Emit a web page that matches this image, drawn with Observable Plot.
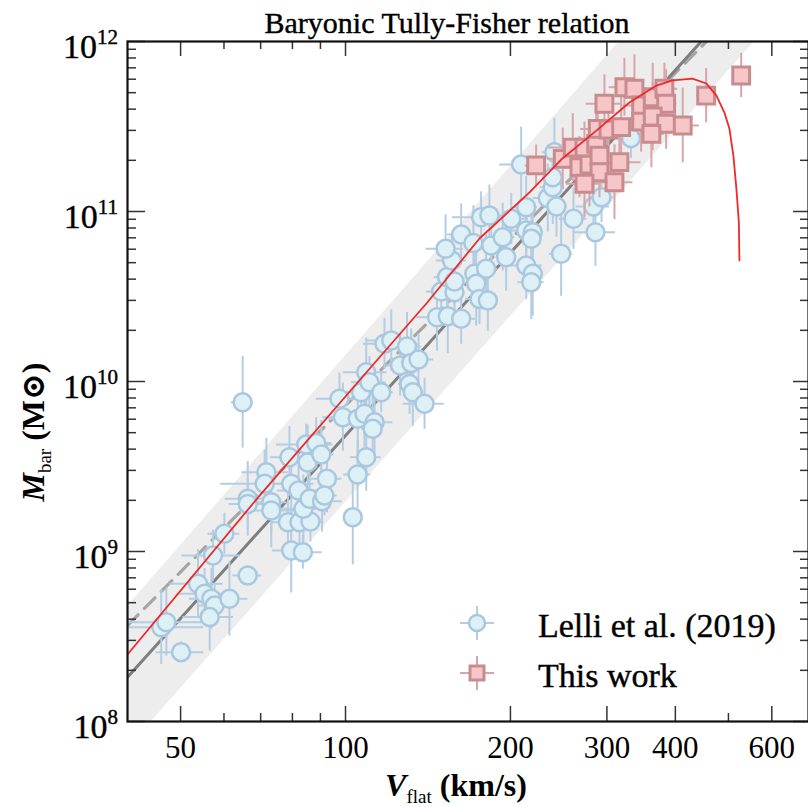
<!DOCTYPE html>
<html><head><meta charset="utf-8">
<script src="https://cdn.jsdelivr.net/npm/d3@7"></script>
<script src="https://cdn.jsdelivr.net/npm/@observablehq/plot@0.6"></script>
<style>body{margin:0;background:#fff;} svg{display:block;} svg text, svg tspan{font-family:"Liberation Serif","DejaVu Serif",serif !important;}</style>
</head><body><div id="chart"></div>
<script>
// ---- Lelli et al. (2019) : V_flat (km/s), log10 M_bar, errors
const lelliV = [46.1,47.1,50.1,53.8,55.3,56.9,57.7,56.5,61.4,66.3,57.3,79.6,83.6,60.1,66.3,66.3,71.7,71.2,73.2,73.2,79.6,78.5,82.4,86.3,83.8,79.0,82.1,85.3,84.8,88.4,90.3,86.0,90.6,92.5,91.5,64.9,97.5,98.9,105.2,103.1,105.3,109.1,106.8,109.1,110.6,116.2,108.3,113.0,112.1,117.8,121.2,129.5,125.8,131.8,135.9,130.9,132.7,139.4,146.9,153.7,162.6,149.5,158.1,153.2,158.1,156.4,152.3,162.6,171.2,171.9,173.2,180.6,175.6,181.9,184.5,176.8,183.1,193.6,196.4,200.7,213.7,213.7,219.7,218.5,213.7,219.7,218.3,234.0,238.9,242.7,247.5,260.7,209.2,238.9,283.6,285.9,293.3,332.0,240.6];
const lelliLogM = [8.555,8.584,8.408,8.81,8.751,8.722,8.682,8.614,8.722,8.859,8.976,9.006,8.996,9.104,9.31,9.28,9.466,9.398,9.29,9.241,9.398,9.172,9.172,9.176,9.251,9.555,9.359,9.524,9.629,9.638,9.571,9.31,9.295,9.428,9.329,9.878,9.898,9.79,9.453,9.202,9.781,9.555,9.937,10.055,9.996,9.937,9.81,9.761,9.722,10.222,10.241,10.206,10.094,10.109,10.129,9.986,9.937,9.869,10.378,10.384,10.369,10.529,10.525,10.614,10.588,10.712,10.781,10.865,10.815,10.634,10.575,10.663,10.486,10.476,10.8,10.966,10.976,10.849,10.731,10.957,11.025,10.888,10.878,10.839,10.682,10.634,10.584,11.079,11.143,11.029,10.751,10.957,11.276,11.202,11.029,10.878,11.084,11.432,11.349];
const lelliErrV = [9,10,5,6,6,5,4,6,5,4,7,6,7,4,6,5,7,12,5,8,8,5,6,5,9,6,7,5,10,6,5,4,8,6,5,3,9,8,6,3,12,7,7,10,8,6,6,9,5,10,12,8,7,6,9,6,5,12,12,8,10,9,7,8,6,10,12,9,8,7,6,9,10,8,7,20,12,10,8,15,10,12,9,8,15,10,12,14,12,10,12,15,18,10,20,25,15,20,12];
const lelliErrLogM = [0.22,0.2,0.06,0.2,0.15,0.18,0.12,0.2,0.22,0.05,0.15,0.25,0.1,0.12,0.22,0.15,0.2,0.2,0.18,0.22,0.2,0.2,0.15,0.12,0.2,0.18,0.15,0.22,0.12,0.15,0.2,0.15,0.18,0.2,0.12,0.27,0.15,0.2,0.2,0.28,0.22,0.2,0.15,0.2,0.15,0.12,0.2,0.18,0.2,0.15,0.18,0.2,0.18,0.2,0.15,0.18,0.2,0.15,0.2,0.22,0.15,0.12,0.2,0.18,0.15,0.15,0.2,0.18,0.22,0.15,0.25,0.2,0.15,0.18,0.12,0.15,0.18,0.2,0.2,0.15,0.18,0.2,0.15,0.22,0.2,0.25,0.22,0.2,0.22,0.18,0.25,0.18,0.22,0.2,0.15,0.2,0.15,0.12,0.2];

// ---- This work
const workV = [222.8,249.2,259.9,273.0,286.8,267.3,278.8,290.8,290.8,273.0,309.7,316.2,288.7,302.0,318.5,296.9,322.9,336.8,346.4,363.7,382.0,384.8,346.4,363.7,384.8,412.6,361.7,455.3,527.5];
const workLogM = [11.271,11.31,11.376,11.376,11.398,11.261,11.276,11.329,11.231,11.163,11.172,11.29,11.486,11.482,11.496,11.634,11.731,11.722,11.624,11.672,11.722,11.634,11.529,11.559,11.516,11.506,11.457,11.682,11.8];
const workErrV = [10,15,25,20,15,20,18,22,15,20,25,30,20,25,18,22,20,18,25,20,22,18,30,20,25,30,20,18,10];
const workErrLogM = [0.12,0.18,0.2,0.15,0.22,0.18,0.25,0.2,0.15,0.2,0.22,0.18,0.2,0.15,0.18,0.17,0.17,0.2,0.15,0.2,0.15,0.2,0.18,0.2,0.15,0.22,0.2,0.16,0.13];

// ---- model curve (red)
const modelV = [40,69.7,105.2,140.5,175.6,216.7,248.9,287.1,329.8,369.4,395.2,429.8,455.9,475.4,491.6,502.0,510.5,517.0,522.4,523.6];
const modelLogM = [8.394,9.329,9.994,10.459,10.841,11.112,11.312,11.476,11.641,11.741,11.771,11.782,11.753,11.682,11.582,11.488,11.329,11.135,10.935,10.712];

// ---- fitted relations and scatter band (endpoints)
const fitV = [40, 700];
const fitSolidLogM = [8.261, 12.699];
const fitDashedLogM = [8.565, 12.605];
const bandLowLogM = [7.842, 12.358];
const bandHighLogM = [8.676, 13.28];

// ---- axis ticks
const xMajor = [50, 100, 200, 300, 400, 600];
const xMinor = [60, 70, 80, 90, 500];
const yMajorExp = [8, 9, 10, 11, 12];

const lelli = lelliV.map((v, i) => ({V: v, M: 10 ** lelliLogM[i], lo: 10 ** (lelliLogM[i] - lelliErrLogM[i]), hi: 10 ** (lelliLogM[i] + lelliErrLogM[i]), vlo: v - lelliErrV[i], vhi: v + lelliErrV[i]}));
const work = workV.map((v, i) => ({V: v, M: 10 ** workLogM[i], lo: 10 ** (workLogM[i] - workErrLogM[i]), hi: 10 ** (workLogM[i] + workErrLogM[i]), vlo: v - workErrV[i], vhi: v + workErrV[i]}));
const model = modelV.map((v, i) => ({V: v, M: 10 ** modelLogM[i]}));
const fit = fitV.map((v, i) => ({V: v, solid: 10 ** fitSolidLogM[i], dashed: 10 ** fitDashedLogM[i], lo: 10 ** bandLowLogM[i], hi: 10 ** bandHighLogM[i]}));
const yMajor = yMajorExp.map(e => 10 ** e);
const yMinor = [];
for (let e = 8; e < 12; e++) for (let k = 2; k <= 9; k++) yMinor.push(k * 10 ** e);

const W = 808, H = 807, mL = 127, mR = 0, mT = 41, mB = 86;
const frameH = H - mT - mB, frameW = W - mL - mR;
const FONT = "'Liberation Serif', 'DejaVu Serif', serif";

const blueFill = "#ddf0f5", blueStroke = "#a9c7df", blueBar = "#b3cde3";
const redFill = "#f6c6c9", redStroke = "#c98c8e", redBar = "#d9a5a8";

const chart = Plot.plot({
  width: W, height: H,
  marginLeft: mL, marginRight: mR, marginTop: mT, marginBottom: mB,
  x: {type: "log", domain: [40, 700]},
  y: {type: "log", domain: [1e8, 1e12]},
  style: {fontFamily: FONT, background: "white"},
  marks: [
    Plot.areaY(fit, {x: "V", y1: "lo", y2: "hi", fill: "#ededed", clip: true}),
    Plot.line(fit, {x: "V", y: "dashed", stroke: "#a6a6a6", strokeWidth: 3.2, strokeDasharray: "15,9", clip: true}),
    Plot.line(fit, {x: "V", y: "solid", stroke: "#7f7f7f", strokeWidth: 3, clip: true}),
    Plot.ruleX(lelli, {x: "V", y1: "lo", y2: "hi", stroke: blueBar, strokeWidth: 2, clip: true}),
    Plot.ruleY(lelli, {y: "M", x1: "vlo", x2: "vhi", stroke: blueBar, strokeWidth: 2, clip: true}),
    Plot.dot(lelli, {x: "V", y: "M", r: 9, fill: blueFill, stroke: blueStroke, strokeWidth: 2.5}),
    Plot.ruleX(work, {x: "V", y1: "lo", y2: "hi", stroke: redBar, strokeWidth: 2, clip: true}),
    Plot.ruleY(work, {y: "M", x1: "vlo", x2: "vhi", stroke: redBar, strokeWidth: 2, clip: true}),
    Plot.dot(work, {x: "V", y: "M", r: 9.5, symbol: "square", fill: redFill, stroke: redStroke, strokeWidth: 3}),
    Plot.line(model, {x: "V", y: "M", stroke: "#f02828", strokeWidth: 1.8, clip: true}),
    // ticks (inward)
    Plot.ruleX(xMajor, {x: d => d, insetTop: frameH - 15, stroke: "#333", strokeWidth: 1.5}),
    Plot.ruleX(xMinor, {x: d => d, insetTop: frameH - 8, stroke: "#333", strokeWidth: 1.5}),
    Plot.ruleX(xMajor, {x: d => d, insetBottom: frameH - 15, stroke: "#333", strokeWidth: 1.5}),
    Plot.ruleX(xMinor, {x: d => d, insetBottom: frameH - 8, stroke: "#333", strokeWidth: 1.5}),
    Plot.ruleY(yMajor, {y: d => d, insetRight: frameW - 18, stroke: "#333", strokeWidth: 1.5}),
    Plot.ruleY(yMinor, {y: d => d, insetRight: frameW - 9, stroke: "#333", strokeWidth: 1.5}),
    Plot.ruleY(yMajor, {y: d => d, insetLeft: frameW - 15, stroke: "#333", strokeWidth: 1.5}),
    Plot.ruleY(yMinor, {y: d => d, insetLeft: frameW - 8, stroke: "#333", strokeWidth: 1.5}),
    Plot.axisX(xMajor, {anchor: "bottom", tickSize: 0, tickPadding: 14, tickFormat: d => String(d), fontSize: 31, fill: "#000", stroke: "#000", strokeWidth: 0.35}),
    Plot.axisY({ticks: [], tickSize: 0, label: null}),
    Plot.frame({stroke: "#111", strokeWidth: 2.2})
  ]
});

const svg = d3.select(chart);
svg.attr("font-family", FONT);
const ys = chart.scale("y");
const heavy = sel => sel.attr("stroke", "#000").attr("stroke-width", 0.4);

// y tick labels 10^n
yMajorExp.forEach(e => {
  const y = ys.apply(10 ** e);
  const t = svg.append("text").attr("x", 118).attr("y", y + 17).attr("text-anchor", "end").attr("font-size", 34).attr("fill", "#000").call(heavy);
  t.append("tspan").text("10");
  t.append("tspan").attr("dy", -14).attr("font-size", 21).text(String(e));
});

// title
svg.append("text").attr("x", 447).attr("y", 33).attr("text-anchor", "middle").attr("font-size", 30).attr("fill", "#000").call(heavy).text("Baryonic Tully-Fisher relation");

// x label
const xl = svg.append("text").attr("x", 456).attr("y", 796).attr("text-anchor", "middle").attr("font-size", 32).attr("font-weight", "bold").attr("fill", "#000");
xl.append("tspan").attr("font-style", "italic").text("V");
xl.append("tspan").attr("font-size", 19).attr("font-weight", "normal").attr("dy", 7).text("flat");
xl.append("tspan").attr("dy", -7).text(" (km/s)");

// y label
const yl = svg.append("text").attr("transform", "translate(44,432) rotate(-90)").attr("text-anchor", "middle").attr("font-size", 32).attr("font-weight", "bold").attr("fill", "#000");
yl.append("tspan").attr("font-style", "italic").text("M");
yl.append("tspan").attr("font-size", 19).attr("font-weight", "normal").attr("dy", 7).text("bar");
yl.append("tspan").attr("dy", -7).text(" (M\u2299)");

// legend
const lg = svg.append("g").attr("text-anchor", "start");
function legendBars(cx, cy, color) {
  lg.append("line").attr("x1", cx - 17).attr("x2", cx + 17).attr("y1", cy).attr("y2", cy).attr("stroke", color).attr("stroke-width", 2);
  lg.append("line").attr("x1", cx).attr("x2", cx).attr("y1", cy - 17).attr("y2", cy + 17).attr("stroke", color).attr("stroke-width", 2);
}
legendBars(477, 623, blueBar);
lg.append("circle").attr("cx", 477).attr("cy", 623).attr("r", 8).attr("fill", blueFill).attr("stroke", blueStroke).attr("stroke-width", 2.5);
legendBars(477, 673, redBar);
lg.append("rect").attr("x", 470).attr("y", 666).attr("width", 14).attr("height", 14).attr("fill", redFill).attr("stroke", redStroke).attr("stroke-width", 3);
lg.append("text").attr("x", 538).attr("y", 637).attr("text-anchor", "start").attr("font-size", 34).attr("fill", "#000").call(heavy).text("Lelli et al. (2019)");
lg.append("text").attr("x", 538).attr("y", 687).attr("text-anchor", "start").attr("font-size", 34).attr("fill", "#000").call(heavy).text("This work");

document.getElementById("chart").appendChild(chart);
</script>
</body></html>
